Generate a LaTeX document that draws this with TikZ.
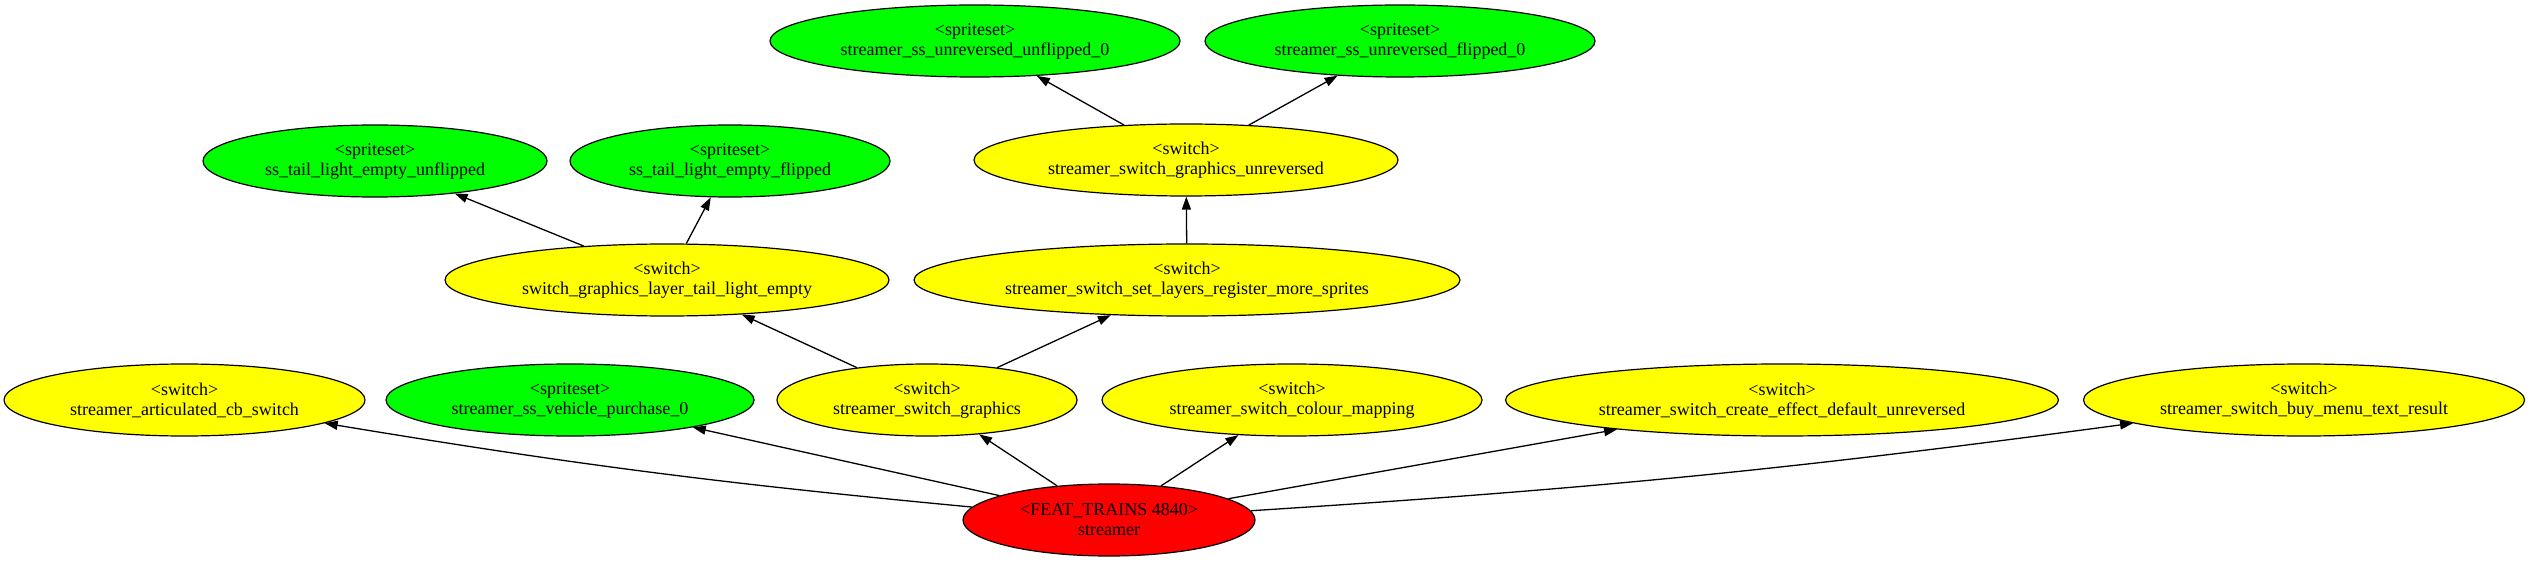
\documentclass[tikz,border=0pt]{standalone}
\usepackage{fontspec}
\setmainfont{Liberation Serif}
\usetikzlibrary{shapes.geometric,arrows.meta}
\definecolor{gvyellow}{RGB}{255,255,0}
\definecolor{gvgreen}{RGB}{0,255,0}
\definecolor{gvred}{RGB}{255,0,0}
\tikzset{
  gvnode/.style={ellipse, draw=black, line width=1.2pt, inner sep=0pt, minimum height=72pt},
  swnode/.style={gvnode, fill=gvyellow},
  ssnode/.style={gvnode, fill=gvgreen},
  rootnode/.style={gvnode, fill=gvred},
  lbl/.style={align=center, font=\fontsize{18}{20}\selectfont, inner sep=0pt},
  edge/.style={line width=1.3pt, -{Triangle[length=13pt,width=9pt]}}
}
\begin{document}
\begin{tikzpicture}[x=1pt,y=-1pt]
\useasboundingbox (0,0) rectangle (2529,561);
% nodes
\node[rootnode, minimum width=292pt] (root) at (1109,520) {};
\node[lbl] (root-t) at (root) {<FEAT\_TRAINS 4840>\\streamer};

\node[swnode, minimum width=361pt] (artic) at (184.5,400) {};
\node[lbl] (artic-t) at (artic) {<switch>\\streamer\_articulated\_cb\_switch};
\node[ssnode, minimum width=368pt] (vehp) at (570,400) {};
\node[lbl] (vehp-t) at (vehp) {<spriteset>\\streamer\_ss\_vehicle\_purchase\_0};
\node[swnode, minimum width=300pt] (sg) at (927,400) {};
\node[lbl] (sg-t) at (sg) {<switch>\\streamer\_switch\_graphics};
\node[swnode, minimum width=380pt] (colm) at (1292,400) {};
\node[lbl] (colm-t) at (colm) {<switch>\\streamer\_switch\_colour\_mapping};
\node[swnode, minimum width=553pt] (cred) at (1782,400) {};
\node[lbl] (cred-t) at (cred) {<switch>\\streamer\_switch\_create\_effect\_default\_unreversed};
\node[swnode, minimum width=441pt] (buy) at (2304,400) {};
\node[lbl] (buy-t) at (buy) {<switch>\\streamer\_switch\_buy\_menu\_text\_result};

\node[swnode, minimum width=444pt] (ltail) at (667,280) {};
\node[lbl] (ltail-t) at (ltail) {<switch>\\switch\_graphics\_layer\_tail\_light\_empty};
\node[swnode, minimum width=546pt] (setl) at (1187,280) {};
\node[lbl] (setl-t) at (setl) {<switch>\\streamer\_switch\_set\_layers\_register\_more\_sprites};

\node[ssnode, minimum width=344pt] (tunf) at (375,161) {};
\node[lbl] (tunf-t) at (tunf) {<spriteset>\\ss\_tail\_light\_empty\_unflipped};
\node[ssnode, minimum width=320pt] (tfl) at (730,161) {};
\node[lbl] (tfl-t) at (tfl) {<spriteset>\\ss\_tail\_light\_empty\_flipped};
\node[swnode, minimum width=424pt] (unrev) at (1186,160) {};
\node[lbl] (unrev-t) at (unrev) {<switch>\\streamer\_switch\_graphics\_unreversed};

\node[ssnode, minimum width=410pt] (unf0) at (975,41) {};
\node[lbl] (unf0-t) at (unf0) {<spriteset>\\streamer\_ss\_unreversed\_unflipped\_0};
\node[ssnode, minimum width=390pt] (fl0) at (1400,41) {};
\node[lbl] (fl0-t) at (fl0) {<spriteset>\\streamer\_ss\_unreversed\_flipped\_0};

% edges
\draw[edge] (root) to[bend left=2] (artic);
\draw[edge] (root) -- (vehp);
\draw[edge] (root) -- (sg);
\draw[edge] (root) -- (colm);
\draw[edge] (root) -- (cred);
\draw[edge] (root) to[bend right=2] (buy);
\draw[edge] (sg) -- (ltail);
\draw[edge] (sg) -- (setl);
\draw[edge] (setl) -- (unrev);
\draw[edge] (ltail) -- (tunf);
\draw[edge] (ltail) -- (tfl);
\draw[edge] (unrev) -- (unf0);
\draw[edge] (unrev) -- (fl0);
\end{tikzpicture}
\end{document}
